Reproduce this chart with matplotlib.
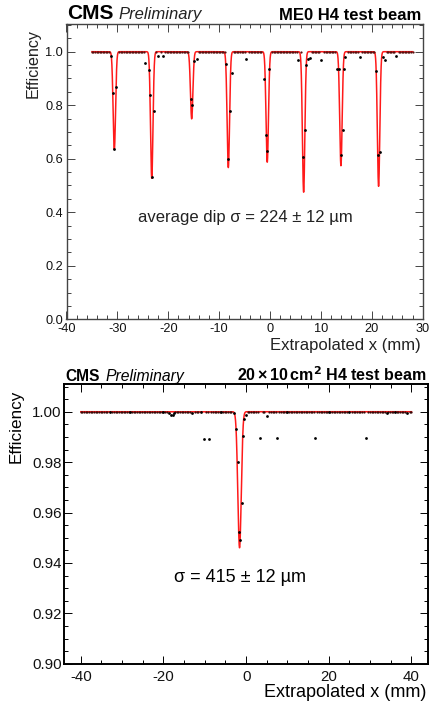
import numpy as np
import matplotlib
matplotlib.use("Agg")
import matplotlib.pyplot as plt
from matplotlib.ticker import MultipleLocator

plt.rcParams['font.family'] = ['Liberation Sans', 'DejaVu Sans']
plt.rcParams['axes.unicode_minus'] = False

# ---------------- data: top panel (ME0) ----------------
top_flat_range = (-35.0, 28.0)
top_bin_width = 0.3
top_dip_x = [-31.3, -30.9, -30.6, -30.2, -24.5, -23.85, -23.6, -23.25, -22.9, -22.0, -21.0,
             -15.6, -15.3, -14.9, -14.4, -8.6, -8.2, -7.9, -7.55, -4.7, -1.2, -0.8, -0.55,
             -0.2, 5.5, 6.5, 6.85, 7.1, 7.45, 7.8, 10.0, 13.2, 13.5, 13.9, 14.25, 14.5, 14.8,
             17.7, 20.9, 21.3, 21.55, 22.1, 22.5, 24.8]
top_dip_eff = [0.985, 0.845, 0.637, 0.868, 0.957, 0.932, 0.838, 0.531, 0.780, 0.984, 0.983,
               0.822, 0.800, 0.966, 0.972, 0.954, 0.600, 0.777, 0.920, 0.973, 0.899, 0.690, 0.629,
               0.936, 0.969, 0.605, 0.707, 0.951, 0.973, 0.976, 0.968, 0.934, 0.935, 0.614, 0.709,
               0.936, 0.979, 0.980, 0.927, 0.614, 0.626, 0.981, 0.969, 0.983]
top_fit_mu = [-30.6, -23.25, -15.4, -8.2, -0.55, 6.6, 13.93, 21.33]
top_fit_depth = [0.365, 0.473, 0.251, 0.433, 0.413, 0.525, 0.426, 0.503]
top_fit_sigma = 0.24
top_text = "average dip σ = 224 ± 12 µm"

# ---------------- data: bottom panel (20x10 cm2) ----------------
bot_flat_range = (-40.0, 40.0)
bot_bin_width = 0.4
bot_dip_x = [-33.0, -28.0, -20.0, -18.6, -18.2, -17.8, -17.5, -13.0, -11.0, -10.25, -8.9, -6.0,
             -3.0, -2.56, -2.08, -1.68, -1.44, -1.03, -0.88, -0.55, 0.0, 3.36, 4.96, 7.5,
             10.0, 16.7, 20.0, 25.0, 29.0, 34.0, 36.0, 39.0]
bot_dip_eff = [0.9998, 0.9997, 0.9997, 0.9994, 0.9986, 0.9988, 0.9995, 0.9996, 0.9997, 0.9892,
               0.9892, 0.9997, 0.9995, 0.9931, 0.9799, 0.9521, 0.9491, 0.9638, 0.9905, 0.9970,
               0.9985, 0.9894, 0.9983, 0.9894, 0.9998, 0.9894, 0.9997, 0.9998, 0.9894, 0.9996,
               0.9997, 0.9996]
bot_fit_mu = [-1.6]
bot_fit_depth = [0.054]
bot_fit_sigma = 0.415
bot_text = "σ = 415 ± 12 µm"


def fit_curve(x, mus, depths, sigma):
    y = np.ones_like(x)
    for m, d in zip(mus, depths):
        y -= d * np.exp(-0.5 * ((x - m) / sigma) ** 2)
    return y


def flat_points(rng, bw, dipx, excl):
    xs = np.arange(rng[0], rng[1] + 1e-9, bw)
    dx = np.asarray(dipx)
    keep = np.array([np.min(np.abs(dx - v)) > excl for v in xs])
    return xs[keep], np.ones(keep.sum())


fig = plt.figure(figsize=(4.33, 7.04), dpi=100)
W, H = 433.0, 704.0

def style_axes(ax, lw, color):
    for s in ax.spines.values():
        s.set_linewidth(lw)
        s.set_color(color)
    ax.tick_params(which='both', direction='in', top=True, right=True, colors=color,
                   labelcolor='#111111')
    ax.tick_params(which='major', length=5.5, width=0.7)
    ax.tick_params(which='minor', length=2.8, width=0.7)

# ---------- top panel ----------
ax1 = fig.add_axes([66.5 / W, 1 - 319.3 / H, (422.7 - 66.5) / W, (319.3 - 24) / H])
xc = np.linspace(top_flat_range[0], top_flat_range[1], 6000)
ax1.plot(xc, fit_curve(xc, top_fit_mu, top_fit_depth, top_fit_sigma), color='#ff1a1a', lw=1.1,
         zorder=2)
fx, fy = flat_points(top_flat_range, top_bin_width, top_dip_x, 0.3)
ax1.plot(fx, fy, 'o', color='#5a1010', ms=1.6, mew=0, zorder=3)
ax1.plot(top_dip_x, top_dip_eff, 'o', color='black', ms=2.0, mew=0, zorder=3)
ax1.set_xlim(-40, 30)
ax1.set_ylim(0.0, 1.1035)
ax1.xaxis.set_major_locator(MultipleLocator(10))
ax1.xaxis.set_minor_locator(MultipleLocator(2))
ax1.yaxis.set_major_locator(MultipleLocator(0.2))
ax1.yaxis.set_minor_locator(MultipleLocator(0.05))
ax1.yaxis.set_major_formatter(plt.FuncFormatter(lambda v, p: f"{v:.1f}"))
style_axes(ax1, 1.0, '#444444')
ax1.tick_params(axis='y', labelsize=9.2, pad=2.5)
ax1.tick_params(axis='x', labelsize=9.2, pad=3.0)
ax1.text(-26.0, 0.365, top_text, fontsize=12, ha='left', va='baseline', color='#222222')

fig.text(66.7 / W, 1 - 19 / H, "CMS", fontsize=15, fontweight='bold', ha='left', va='baseline')
fig.text(118 / W, 1 - 18.5 / H, "Preliminary", fontsize=12, fontstyle='italic', ha='left',
         va='baseline', color='#222222')
fig.text(421.7 / W, 1 - 20.5 / H, "ME0 H4 test beam", fontsize=12, fontweight='bold',
         ha='right', va='baseline')
fig.text(421 / W, 1 - 350 / H, "Extrapolated x (mm)", fontsize=12, ha='right', va='baseline',
         color='#222222')
fig.text(33 / W, 1 - 29 / H, "Efficiency", fontsize=11.6, rotation=90, ha='center', va='top',
         color='#222222')

# ---------- bottom panel ----------
ax2 = fig.add_axes([64.3 / W, 1 - 663.7 / H, (428 - 64.3) / W, (663.7 - 384) / H])
xc2 = np.linspace(bot_flat_range[0], bot_flat_range[1], 8000)
ax2.plot(xc2, fit_curve(xc2, bot_fit_mu, bot_fit_depth, bot_fit_sigma), color='#ff1a1a', lw=1.1,
         zorder=2)
fx2, fy2 = flat_points(bot_flat_range, bot_bin_width, bot_dip_x, 0.25)
ax2.plot(fx2, fy2, 'o', color='#3a0a0a', ms=1.6, mew=0, zorder=3)
ax2.plot(bot_dip_x, bot_dip_eff, 'o', color='black', ms=2.0, mew=0, zorder=3)
ax2.set_xlim(-44, 44)
ax2.set_ylim(0.90, 1.011)
ax2.xaxis.set_major_locator(MultipleLocator(20))
ax2.xaxis.set_minor_locator(MultipleLocator(5))
ax2.yaxis.set_major_locator(MultipleLocator(0.02))
ax2.yaxis.set_minor_locator(MultipleLocator(0.005))
ax2.yaxis.set_major_formatter(plt.FuncFormatter(lambda v, p: f"{v:.2f}"))
style_axes(ax2, 1.4, 'black')
ax2.tick_params(axis='y', labelsize=10.8, pad=2.0)
ax2.tick_params(axis='x', labelsize=10.8, pad=4.5)
ax2.text(-1.4, 0.9325, bot_text, fontsize=13, ha='center', va='baseline')

fig.text(65.7 / W, 1 - 380.7 / H, "CMS", fontsize=11.2, fontweight='bold', ha='left',
         va='baseline')
fig.text(106 / W, 1 - 380.7 / H, "Preliminary", fontsize=11.3, fontstyle='italic', ha='left',
         va='baseline')
fig.text(426.7 / W, 1 - 380.7 / H, r"20$\,$×$\,$10$\,$cm$^{\mathbf{2}}$ H4 test beam", fontsize=11.5,
         fontweight='bold', ha='right', va='baseline')
fig.text(426.7 / W, 1 - 696.7 / H, "Extrapolated x (mm)", fontsize=13, ha='right', va='baseline')
fig.text(15.7 / W, 1 - 390 / H, "Efficiency", fontsize=12.3, rotation=90, ha='center', va='top')

fig.savefig("out.png", dpi=100)
